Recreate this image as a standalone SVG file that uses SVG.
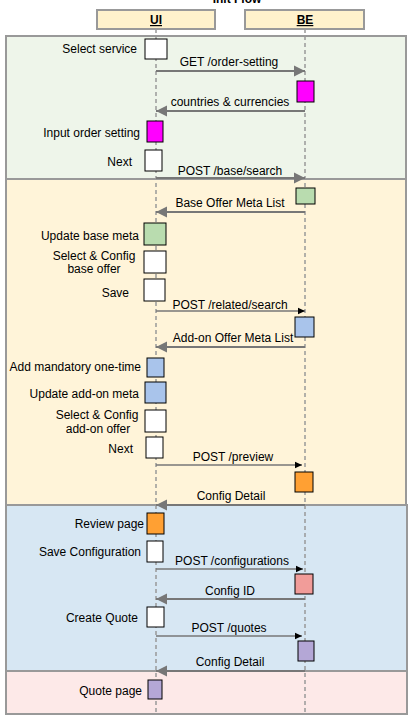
<svg xmlns="http://www.w3.org/2000/svg" width="412" height="720" viewBox="0 0 412 720">
<defs>
<style>
text{font-family:"Liberation Sans",Arial,sans-serif;font-size:12px;fill:#000}
.r{text-anchor:end}
.m{text-anchor:middle}
.sec{stroke:#999;stroke-width:2}
.hdr{fill:#fff2cc;stroke:#999;stroke-width:2}
.life{stroke:#999;stroke-width:1.5;stroke-dasharray:4 3;fill:none}
.act{stroke:#000;stroke-width:1}
.g{stroke:#777;stroke-width:2;fill:none}
.b{stroke:#777;stroke-width:1.5;fill:none}
</style>
<marker id="ga" markerUnits="userSpaceOnUse" markerWidth="12" markerHeight="12" refX="11" refY="6" orient="auto"><path d="M0,0.5 L11,6 L0,11.5 z" fill="#777"/></marker>
<marker id="ba" markerUnits="userSpaceOnUse" markerWidth="8" markerHeight="8" refX="7.5" refY="4" orient="auto"><path d="M0,0.5 L7.5,4 L0,7.5 z" fill="#000"/></marker>
</defs>
<rect width="412" height="720" fill="#fff"/>
<text class="m" x="237" y="3" font-weight="bold">Init Flow</text>
<g id="sections">
<rect class="sec" x="6" y="36" width="400" height="143" fill="#eef5ea"/>
<rect class="sec" x="6" y="179" width="400" height="326" fill="#fff4d9"/>
<rect class="sec" x="6" y="505" width="401" height="166" fill="#d7e7f3"/>
<rect class="sec" x="6" y="671" width="401" height="43" fill="#fde9e8"/>
</g>
<g id="ui">
<rect class="hdr" x="97" y="10" width="118" height="19"/>
<text class="m" x="156" y="24" font-weight="bold" text-decoration="underline">UI</text>
<line class="life" x1="156" y1="29" x2="156" y2="714"/>
</g>
<g id="be">
<rect class="hdr" x="245" y="10" width="119" height="19"/>
<text class="m" x="305" y="24" font-weight="bold" text-decoration="underline">BE</text>
<line class="life" x1="305" y1="29" x2="305" y2="714"/>
</g>
<g id="connectors">
<line class="g" x1="156" y1="71" x2="305" y2="71" marker-end="url(#ga)"/>
<text class="m" x="229" y="66">GET /order-setting</text>
<line class="g" x1="305" y1="111" x2="156" y2="111" marker-end="url(#ga)"/>
<text class="m" x="230" y="106">countries &amp; currencies</text>
<line class="g" x1="156" y1="178" x2="305" y2="178" marker-end="url(#ga)"/>
<text class="m" x="230" y="175">POST /base/search</text>
<line class="g" x1="305" y1="212" x2="156" y2="212" marker-end="url(#ga)"/>
<text class="m" x="230" y="207">Base Offer Meta List</text>
<line class="b" x1="156" y1="311" x2="305" y2="311" marker-end="url(#ba)"/>
<text class="m" x="230" y="309">POST /related/search</text>
<line class="g" x1="305" y1="347" x2="156" y2="347" marker-end="url(#ga)"/>
<text class="m" x="233" y="342">Add-on Offer Meta List</text>
<line class="b" x1="156" y1="465" x2="302" y2="465" marker-end="url(#ba)"/>
<text class="m" x="233" y="461">POST /preview</text>
<line class="g" x1="305" y1="505" x2="156" y2="505" marker-end="url(#ga)"/>
<text class="m" x="231" y="500">Config Detail</text>
<line class="b" x1="156" y1="569" x2="303" y2="569" marker-end="url(#ba)"/>
<text class="m" x="232" y="565">POST /configurations</text>
<line class="g" x1="305" y1="599" x2="156" y2="599" marker-end="url(#ga)"/>
<text class="m" x="230" y="595">Config ID</text>
<line class="b" x1="156" y1="636" x2="302" y2="636" marker-end="url(#ba)"/>
<text class="m" x="229" y="632">POST /quotes</text>
<line class="g" x1="305" y1="671" x2="156" y2="671" marker-end="url(#ga)"/>
<text class="m" x="230" y="666">Config Detail</text>
</g>
<g id="select-service"><rect class="act" x="145" y="39" width="22" height="20" fill="#fff"/><text class="r" x="137" y="53">Select service</text></g>
<g id="be-order-setting"><rect class="act" x="297" y="81" width="17" height="21" fill="#ff00ff"/></g>
<g id="input-order-setting"><rect class="act" x="147" y="121" width="16" height="21" fill="#ff00ff"/><text class="r" x="140" y="137">Input order setting</text></g>
<g id="next-1"><rect class="act" x="145" y="150" width="17" height="21" fill="#fff"/><text class="r" x="132" y="166">Next</text></g>
<g id="be-base-search"><rect class="act" x="296" y="188" width="19" height="16" fill="#b9dcaf"/></g>
<g id="update-base-meta"><rect class="act" x="144" y="223" width="22" height="22" fill="#b9dcaf"/><text class="r" x="139" y="240">Update base meta</text></g>
<g id="select-config-base"><rect class="act" x="144" y="251" width="22" height="22" fill="#fff"/><text class="m" x="94" y="260">Select &amp; Config</text><text class="m" x="94" y="273">base offer</text></g>
<g id="save"><rect class="act" x="144" y="279" width="21" height="22" fill="#fff"/><text class="r" x="129" y="297">Save</text></g>
<g id="be-related-search"><rect class="act" x="295" y="317" width="19" height="20" fill="#a9c4eb"/></g>
<g id="add-mandatory"><rect class="act" x="147" y="358" width="17" height="19" fill="#a9c4eb"/><text class="r" x="141" y="371">Add mandatory one-time</text></g>
<g id="update-addon-meta"><rect class="act" x="145" y="382" width="21" height="21" fill="#a9c4eb"/><text class="r" x="139" y="398">Update add-on meta</text></g>
<g id="select-config-addon"><rect class="act" x="145" y="410" width="21" height="22" fill="#fff"/><text class="m" x="97" y="419">Select &amp; Config</text><text class="m" x="98" y="433">add-on offer</text></g>
<g id="next-2"><rect class="act" x="146" y="437" width="17" height="21" fill="#fff"/><text class="r" x="133" y="453">Next</text></g>
<g id="be-preview"><rect class="act" x="295" y="472" width="18" height="20" fill="#ffa033"/></g>
<g id="review-page"><rect class="act" x="147" y="513" width="17" height="21" fill="#ffa033"/><text class="r" x="144" y="528">Review page</text></g>
<g id="save-configuration"><rect class="act" x="147" y="541" width="16" height="21" fill="#fff"/><text class="r" x="141" y="556">Save Configuration</text></g>
<g id="be-configurations"><rect class="act" x="295" y="574" width="18" height="20" fill="#f19c99"/></g>
<g id="create-quote"><rect class="act" x="147" y="607" width="17" height="20" fill="#fff"/><text class="r" x="138" y="622">Create Quote</text></g>
<g id="be-quotes"><rect class="act" x="298" y="641" width="16" height="20" fill="#b4a7d6"/></g>
<g id="quote-page"><rect class="act" x="148" y="680" width="14" height="19" fill="#b4a7d6"/><text class="r" x="142" y="695">Quote page</text></g>
</svg>
